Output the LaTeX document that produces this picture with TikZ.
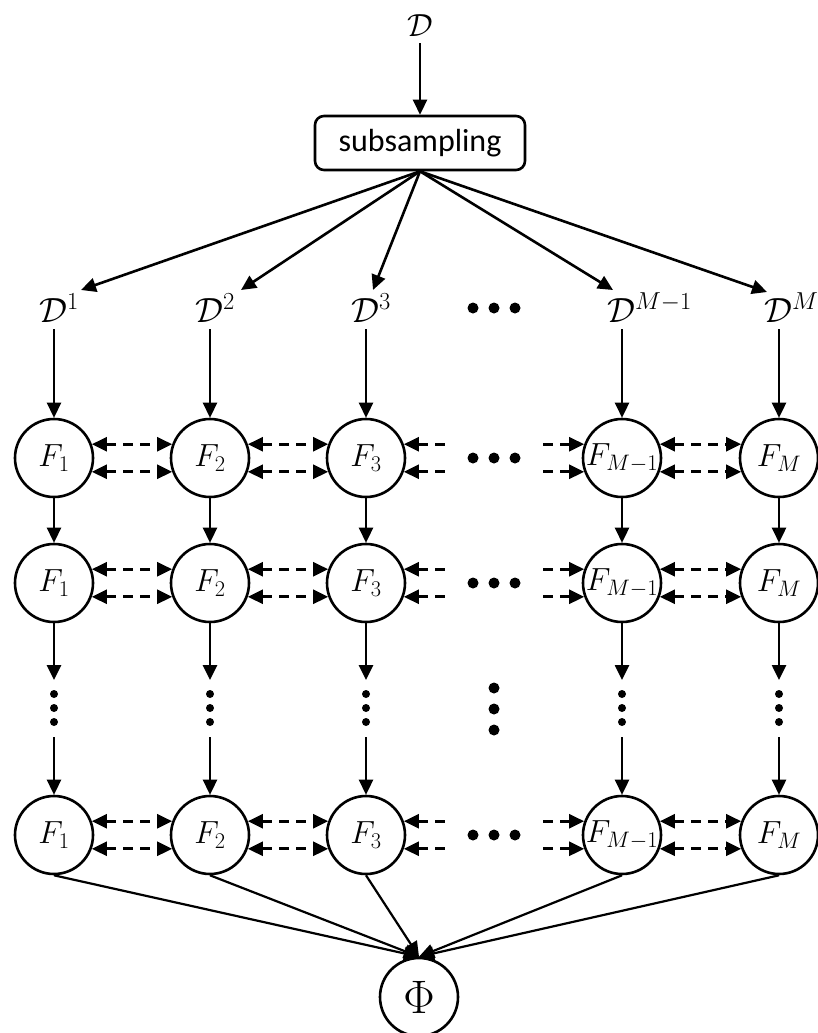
\RequirePackage{fix-cm}
\documentclass[tikz,border=0pt]{standalone}
\usepackage{fontspec}
\newfontfamily\carlito{Carlito}
\usetikzlibrary{arrows.meta}
\begin{document}
\begin{tikzpicture}[x=1pt,y=-1pt,
  big/.style={font=\fontsize{32}{38}\selectfont},
  fnode/.style={circle,draw,line width=2.6pt,minimum size=78pt,inner sep=0pt,big},
  arr/.style={line width=2.6pt,-{Triangle[length=15pt,width=14pt]}},
  thinarr/.style={line width=2.2pt,-{Triangle[length=15pt,width=14pt]}},
  dashline/.style={line width=2.6pt,dash pattern=on 10pt off 7pt},
  darr/.style={dashline,{Triangle[length=15pt,width=14pt]}-{Triangle[length=15pt,width=14pt]}},
  larr/.style={dashline,{Triangle[length=15pt,width=14pt]}-},
  rarr/.style={dashline,-{Triangle[length=15pt,width=14pt]}},
  lab/.style={font=\fontsize{35}{42}\selectfont,inner sep=0pt}]
\useasboundingbox (0,0) rectangle (817,1033);

% top
\node[big,inner sep=6pt] (D) at (420,26) {$\mathcal{D}$};
\node[draw,rounded corners=9pt,minimum width=210pt,minimum height=54pt,line width=2.6pt,
      font=\carlito\fontsize{32}{38}\selectfont] (sub) at (420,143) {subsampling};
\draw[arr] (D) -- (sub);

% D^i labels
\foreach \i/\x/\s in {1/54/1,2/210/2,3/366/3,4/622/{M-1},5/779/M}{
  \node[lab,anchor=base west] (L\i) at (\x-15,322) {$\mathcal{D}^{\s}$};
}
\coordinate (T1) at (81,290);
\coordinate (T2) at (241,290);
\coordinate (T3) at (373,290);
\coordinate (T4) at (613,290);
\coordinate (T5) at (767,292);
\foreach \i in {1,...,5}{ \draw[arr] (sub.south) -- (T\i); }

% rows of F nodes
\foreach \i/\x/\s in {1/54/1,2/210/2,3/366/3,4/622/{M-1},5/779/M}{
  \node[fnode] (A\i) at (\x,458) {\makebox[0pt]{$F_{\s}$}};
  \node[fnode] (B\i) at (\x,583) {\makebox[0pt]{$F_{\s}$}};
  \node[fnode] (C\i) at (\x,835) {\makebox[0pt]{$F_{\s}$}};
  \coordinate (Ls\i) at (\x,329);
  \draw[arr] (Ls\i) -- (A\i);
  \draw[arr] (A\i) -- (B\i);
  \coordinate (Vt\i) at (\x,680);
  \coordinate (Vb\i) at (\x,737);
  \draw[arr] (B\i) -- (Vt\i);
  \draw (Vb\i) edge[arr] (C\i);
  \foreach \yy in {694,708,722}{ \fill (\x,\yy) circle[radius=4pt]; }
}

% phi
\node[fnode,font=\fontsize{47}{56}\selectfont] (Phi) at (419,997) {$\Phi$};
\foreach \i in {1,...,5}{ \draw[thinarr] (C\i.south) -- (Phi.north); }

% horizontal dashed links
\coordinate (sl) at (446,0);
\coordinate (sr) at (543,0);
\foreach \r in {A,B,C}{
  \foreach \a/\b in {1/2,2/3,4/5}{
    \draw[darr] (\r\a.20) -- (\r\b.160);
    \draw[darr] (\r\a.-20) -- (\r\b.-160);
  }
  \draw[larr] (\r3.20) -- (\r3.20 -| sl);
  \draw[larr] (\r3.-20) -- (\r3.-20 -| sl);
  \draw[rarr] (\r4.160 -| sr) -- (\r4.160);
  \draw[rarr] (\r4.-160 -| sr) -- (\r4.-160);
}

% ellipses
\foreach \yy in {308,458,583,835}{
  \foreach \xx in {473,494,515}{ \fill (\xx,\yy) circle[radius=5.5pt]; }
}
\foreach \yy in {688,709,730}{ \fill (494,\yy) circle[radius=5.5pt]; }
\end{tikzpicture}
\end{document}
